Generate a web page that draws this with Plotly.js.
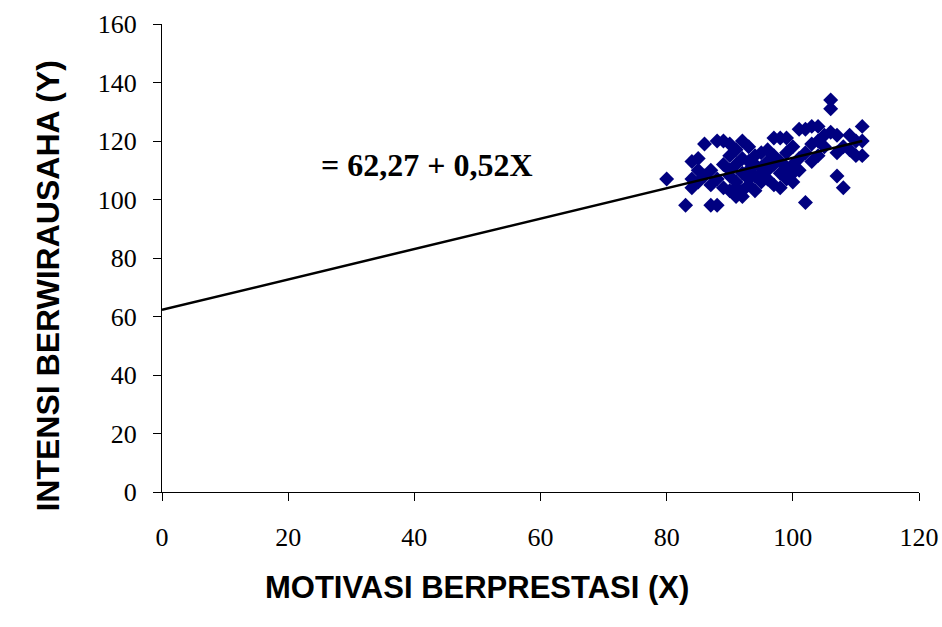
<!DOCTYPE html>
<html>
<head>
<meta charset="utf-8">
<script src="https://cdn.plot.ly/plotly-3.0.1.min.js"></script>
<style>html,body{margin:0;padding:0;background:#fff;}#chart{width:942px;height:627px;}</style>
</head>
<body>
<div id="chart"></div>
<script>
var motivasiX = [80,83,84,84,84,85,85,85,86,86,87,87,87,88,88,88,89,89,89,
  90,90,90,90,90,91,91,91,91,91,92,92,92,92,92,93,93,93,93,93,
  94,94,94,94,95,95,95,95,96,96,96,96,97,97,97,97,98,98,98,98,
  99,99,99,99,100,100,100,100,101,101,101,102,102,102,103,103,103,
  104,104,104,105,105,106,106,106,107,107,107,108,108,109,109,110,110,111,111,111];
var intensiY = [107,98,104,107,113,114,110,106,119,108,98,110,105,98,120,107,120,112,104,
  119,115,108,103,110,101,106,112,117,104,120,103,109,114,101,118,110,105,113,107,
  115,108,112,103,111,116,106,109,117,113,107,110,121,105,112,115,121,104,109,113,
  121,107,116,111,118,106,112,109,124,110,114,99,116,124,125,113,119,
  125,115,120,122,118,134,131,123,108,122,116,104,118,122,117,120,115,125,120,115];

// Regression line end points: Y = 62,27 + 0,52X
var lineX = [0, 111];
var lineY = [62.27, 119.99];

var xTicks = [0, 20, 40, 60, 80, 100, 120];
var yTicks = [0, 20, 40, 60, 80, 100, 120, 140, 160];

var equationText = '= 62,27 + 0,52X';
var xTitle = 'MOTIVASI BERPRESTASI (X)';
var yTitle = 'INTENSI BERWIRAUSAHA (Y)';

var traces = [
  {x: motivasiX, y: intensiY, type: 'scatter', mode: 'markers',
   marker: {symbol: 'diamond', size: 11.5, color: '#000080'}, hoverinfo: 'x+y'},
  {x: lineX, y: lineY, type: 'scatter', mode: 'lines',
   line: {color: '#000000', width: 2.5}}
];

var serif = 'Liberation Serif, Times New Roman, serif';
var sans = 'Liberation Sans, Arial, sans-serif';

var layout = {
  width: 942, height: 627,
  margin: {l: 161.5, r: 23, t: 24, b: 135, pad: 0},
  showlegend: false,
  paper_bgcolor: '#ffffff', plot_bgcolor: '#ffffff',
  xaxis: {range: [0, 120], tickvals: xTicks, ticktext: xTicks.map(String),
    showgrid: false, zeroline: false, showline: true, linecolor: '#000', linewidth: 1,
    ticks: 'outside', ticklen: 8, tickcolor: '#000', tickwidth: 1,
    ticklabelstandoff: 14,
    tickfont: {family: serif, size: 26, color: '#000'}},
  yaxis: {range: [0, 160], tickvals: yTicks, ticktext: yTicks.map(String),
    showgrid: false, zeroline: false, showline: true, linecolor: '#000', linewidth: 1,
    ticks: 'outside', ticklen: 8, tickcolor: '#000', tickwidth: 1,
    ticklabelstandoff: 11,
    tickfont: {family: serif, size: 26, color: '#000'}},
  annotations: [
    {x: 42, y: 111.8, xref: 'x', yref: 'y', text: equationText, showarrow: false,
     font: {family: serif, size: 32, color: '#000', weight: 'bold'}},
    {x: 477, y: 607, xref: 'paper', yref: 'paper', text: xTitle, showarrow: false,
     font: {family: sans, size: 31, color: '#000', weight: 'bold'}},
    {x: 27, y: 286, xref: 'paper', yref: 'paper', text: yTitle, showarrow: false, textangle: -90,
     font: {family: sans, size: 32, color: '#000', weight: 'bold'}}
  ]
};
// convert pixel positions of titles into paper coords
var pw = 942 - 161.5 - 23, ph = 627 - 24 - 135;
layout.annotations[1].x = (477 - 161.5) / pw; layout.annotations[1].y = (627 - 135 - 607) / ph;
layout.annotations[2].x = (27 - 161.5) / pw; layout.annotations[2].y = (627 - 135 - 286) / ph;

Plotly.newPlot('chart', traces, layout, {displayModeBar: false, staticPlot: true});
</script>
</body>
</html>
